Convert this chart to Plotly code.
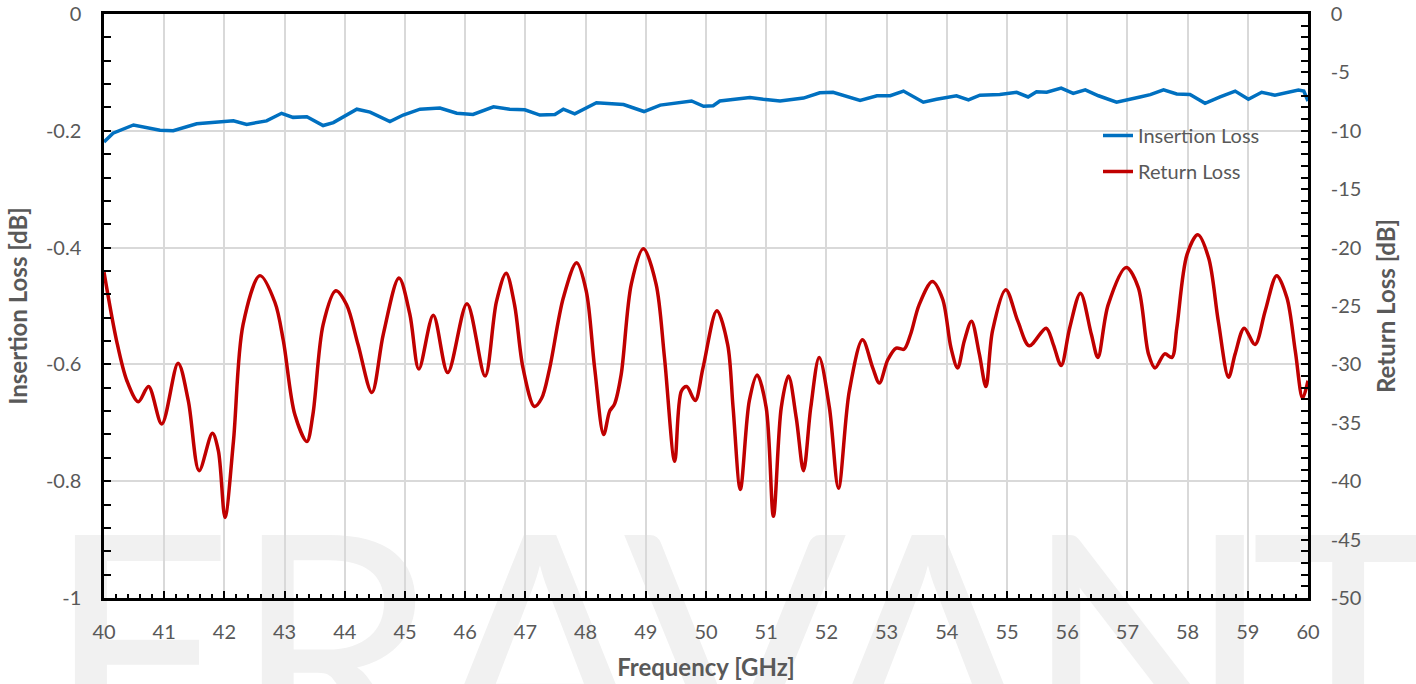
import plotly.graph_objects as go

# ---------------- data ----------------
freq_il = [40.00, 40.15, 40.49, 40.93, 41.15, 41.54, 42.15, 42.37, 42.70, 42.95, 43.14, 43.37,
           43.64, 43.81, 44.20, 44.42, 44.75, 44.97, 45.25, 45.58, 45.86, 46.13, 46.47, 46.74,
           46.99, 47.24, 47.49, 47.63, 47.82, 48.18, 48.63, 48.97, 49.24, 49.76, 49.96, 50.12,
           50.23, 50.73, 50.95, 51.23, 51.62, 51.89, 52.11, 52.56, 52.84, 53.06, 53.28, 53.61,
           53.83, 54.16, 54.36, 54.55, 54.88, 55.16, 55.35, 55.49, 55.66, 55.90, 56.10, 56.30,
           56.52, 56.82, 57.21, 57.38, 57.60, 57.82, 58.04, 58.29, 58.54, 58.79, 59.01, 59.23,
           59.45, 59.84, 59.93, 60.00]
il = [-0.219, -0.204, -0.190, -0.199, -0.200, -0.188, -0.183, -0.189, -0.183, -0.170, -0.177, -0.176,
      -0.191, -0.186, -0.163, -0.168, -0.184, -0.173, -0.163, -0.161, -0.170, -0.172, -0.159, -0.163,
      -0.164, -0.173, -0.172, -0.163, -0.171, -0.152, -0.155, -0.167, -0.156, -0.149, -0.158, -0.157,
      -0.149, -0.143, -0.146, -0.149, -0.144, -0.135, -0.134, -0.148, -0.140, -0.140, -0.132, -0.151,
      -0.146, -0.140, -0.147, -0.139, -0.138, -0.134, -0.142, -0.133, -0.134, -0.127, -0.136, -0.130,
      -0.140, -0.151, -0.142, -0.138, -0.130, -0.137, -0.138, -0.153, -0.142, -0.132, -0.146, -0.134,
      -0.139, -0.130, -0.132, -0.149]

freq_rl = [40.00, 40.21, 40.38, 40.57, 40.74, 40.96, 41.23, 41.40, 41.58, 41.80, 41.90, 42.01,
           42.15, 42.31, 42.59, 42.84, 42.98, 43.17, 43.37, 43.47, 43.64, 43.85, 44.03, 44.22,
           44.45, 44.64, 44.90, 45.08, 45.23, 45.47, 45.71, 46.03, 46.33, 46.52, 46.68, 46.82,
           46.96, 47.15, 47.27, 47.40, 47.63, 47.85, 48.01, 48.15, 48.30, 48.40, 48.48, 48.59,
           48.76, 48.96, 49.17, 49.31, 49.48, 49.59, 49.68, 49.82, 49.95, 50.18, 50.36, 50.45,
           50.57, 50.72, 50.85, 51.00, 51.12, 51.25, 51.37, 51.50, 51.62, 51.74, 51.88, 52.05,
           52.20, 52.38, 52.60, 52.77, 52.88, 53.02, 53.16, 53.29, 53.40, 53.54, 53.76, 53.93,
           54.07, 54.18, 54.29, 54.41, 54.54, 54.65, 54.76, 54.98, 55.18, 55.37, 55.65, 55.77,
           55.90, 56.04, 56.22, 56.40, 56.51, 56.68, 56.98, 57.18, 57.35, 57.46, 57.62, 57.74,
           57.82, 57.99, 58.17, 58.35, 58.51, 58.68, 58.79, 58.94, 59.12, 59.29, 59.48, 59.65,
           59.79, 59.91, 60.00]
rl = [-22.1, -28.0, -31.4, -33.2, -31.9, -35.1, -29.9, -33.1, -39.1, -35.9, -37.4, -43.1,
      -36.6, -26.6, -22.4, -24.7, -28.0, -34.3, -36.6, -34.3, -26.6, -23.7, -24.9, -28.3,
      -32.4, -27.4, -22.6, -25.7, -30.4, -25.8, -30.7, -24.8, -31.0, -24.6, -22.2, -24.9,
      -30.3, -33.6, -32.9, -30.4, -24.3, -21.3, -23.7, -30.3, -36.0, -34.0, -33.4, -30.9,
      -23.1, -20.1, -23.1, -29.4, -38.3, -32.3, -31.9, -33.1, -30.3, -25.4, -28.3, -33.7,
      -40.7, -33.1, -30.9, -33.7, -43.0, -33.7, -31.0, -34.6, -39.1, -33.7, -29.4, -33.7,
      -40.6, -32.3, -27.9, -30.3, -31.6, -29.6, -28.6, -28.7, -27.4, -24.9, -22.9, -24.4,
      -28.6, -30.3, -28.0, -26.3, -29.1, -31.9, -27.1, -23.6, -26.3, -28.4, -26.9, -28.3,
      -30.1, -26.9, -23.9, -27.4, -29.4, -24.9, -21.7, -23.4, -29.1, -30.3, -29.1, -29.4,
      -26.9, -20.6, -18.9, -20.9, -26.3, -31.1, -29.1, -26.9, -28.3, -25.4, -22.4, -24.3,
      -28.9, -32.9, -31.4]

x_ticks = list(range(40, 61))
il_ticks = [0, -0.2, -0.4, -0.6, -0.8, -1]
il_ticktext = ["0", "-0.2", "-0.4", "-0.6", "-0.8", "-1"]
rl_ticks = [0, -5, -10, -15, -20, -25, -30, -35, -40, -45, -50]
rl_ticktext = ["0", "-5", "-10", "-15", "-20", "-25", "-30", "-35", "-40", "-45", "-50"]

watermark_letters = ["E", "R", "A", "V", "A", "N", "T"]
watermark_px = [140, 335, 540, 735, 928, 1148, 1348]

# ---------------- figure ----------------
FONT = "Lato"
GREY = "#595959"
W, H = 1416, 684
PL, PT, PW, PH = 104, 14, 1204, 584       # plot box in pixels
L, T = PL, PT
R = W - L - PW
B = H - T - PH

fig = go.Figure()
fig.add_trace(go.Scatter(
    x=freq_il, y=il, name="Insertion Loss", mode="lines",
    line=dict(color="#0070C0", width=3.5), legendgroup="il"))
fig.add_trace(go.Scatter(
    x=freq_rl, y=rl, name="Return Loss", mode="lines", yaxis="y2",
    line=dict(color="#C00000", width=3.5, shape="spline", smoothing=0.9), legendgroup="rl"))

shapes = []
for letter, px in zip(watermark_letters, watermark_px):
    xc = (px - PL) / PW
    shapes.append(dict(
        type="rect", xref="paper", yref="paper",
        x0=xc - 0.1, x1=xc + 0.1, y0=-0.171, y1=0.029,
        line=dict(width=0), fillcolor="rgba(0,0,0,0)", layer="below",
        label=dict(text=letter, font=dict(family=FONT, size=330, color="#f1f1f1"),
                   textposition="middle center"),
    ))

tickfont = dict(family=FONT, size=20, color=GREY)
titlefont = dict(family=FONT, size=24, color=GREY, weight="bold")

fig.update_layout(
    width=W, height=H,
    margin=dict(l=L, r=R, t=T, b=B, autoexpand=False),
    paper_bgcolor="white",
    plot_bgcolor="rgba(0,0,0,0)",
    showlegend=True,
    legend=dict(x=(1098 - PL) / PW, y=1 - (116 - PT) / PH, xanchor="left", yanchor="top",
                bgcolor="rgba(0,0,0,0)", font=dict(family=FONT, size=20, color=GREY),
                tracegroupgap=7),
    shapes=shapes,
    xaxis=dict(
        range=[40, 60], tickvals=x_ticks, ticks="inside", ticklen=7, tickwidth=2,
        tickcolor="black", showline=True, linewidth=2.5, linecolor="black", mirror=True,
        showgrid=True, gridcolor="#d9d9d9", gridwidth=1.5, zeroline=False, automargin=False,
        tickfont=tickfont, ticklabelstandoff=14, ticklabeloverflow="allow",
        minor=dict(dtick=0.2, tick0=40, ticks="inside", ticklen=4, tickwidth=1.5,
                   tickcolor="black", showgrid=False),
        title=dict(text="Frequency [GHz]", font=titlefont, standoff=18),
    ),
    yaxis=dict(
        range=[-1, 0], tickvals=il_ticks, ticktext=il_ticktext, ticks="inside", ticklen=7,
        tickwidth=2, tickcolor="black", showline=True, linewidth=2.5, linecolor="black",
        mirror=True, showgrid=True, gridcolor="#d9d9d9", gridwidth=1.5, zeroline=False,
        automargin=False, tickfont=tickfont, ticklabelstandoff=16, ticklabeloverflow="allow",
        minor=dict(dtick=0.04, tick0=0, ticks="inside", ticklen=7, tickwidth=2,
                   tickcolor="black", showgrid=False),
        title=dict(text="Insertion Loss [dB]", font=titlefont, standoff=12),
    ),
    yaxis2=dict(
        overlaying="y", side="right", range=[-50, 0], tickvals=rl_ticks, ticktext=rl_ticktext,
        ticks="inside", ticklen=7, tickwidth=2, tickcolor="black", showline=True,
        linewidth=2.5, linecolor="black", showgrid=False, zeroline=False, automargin=False,
        tickfont=tickfont, ticklabelstandoff=16, ticklabeloverflow="allow",
        minor=dict(dtick=1, tick0=0, ticks="inside", ticklen=7, tickwidth=2,
                   tickcolor="black", showgrid=False),
        title=dict(text="Return Loss [dB]", font=titlefont, standoff=18),
    ),
)

fig.write_html("out.html", config={"displayModeBar": False},
               post_script="document.body.style.margin='0px';")
